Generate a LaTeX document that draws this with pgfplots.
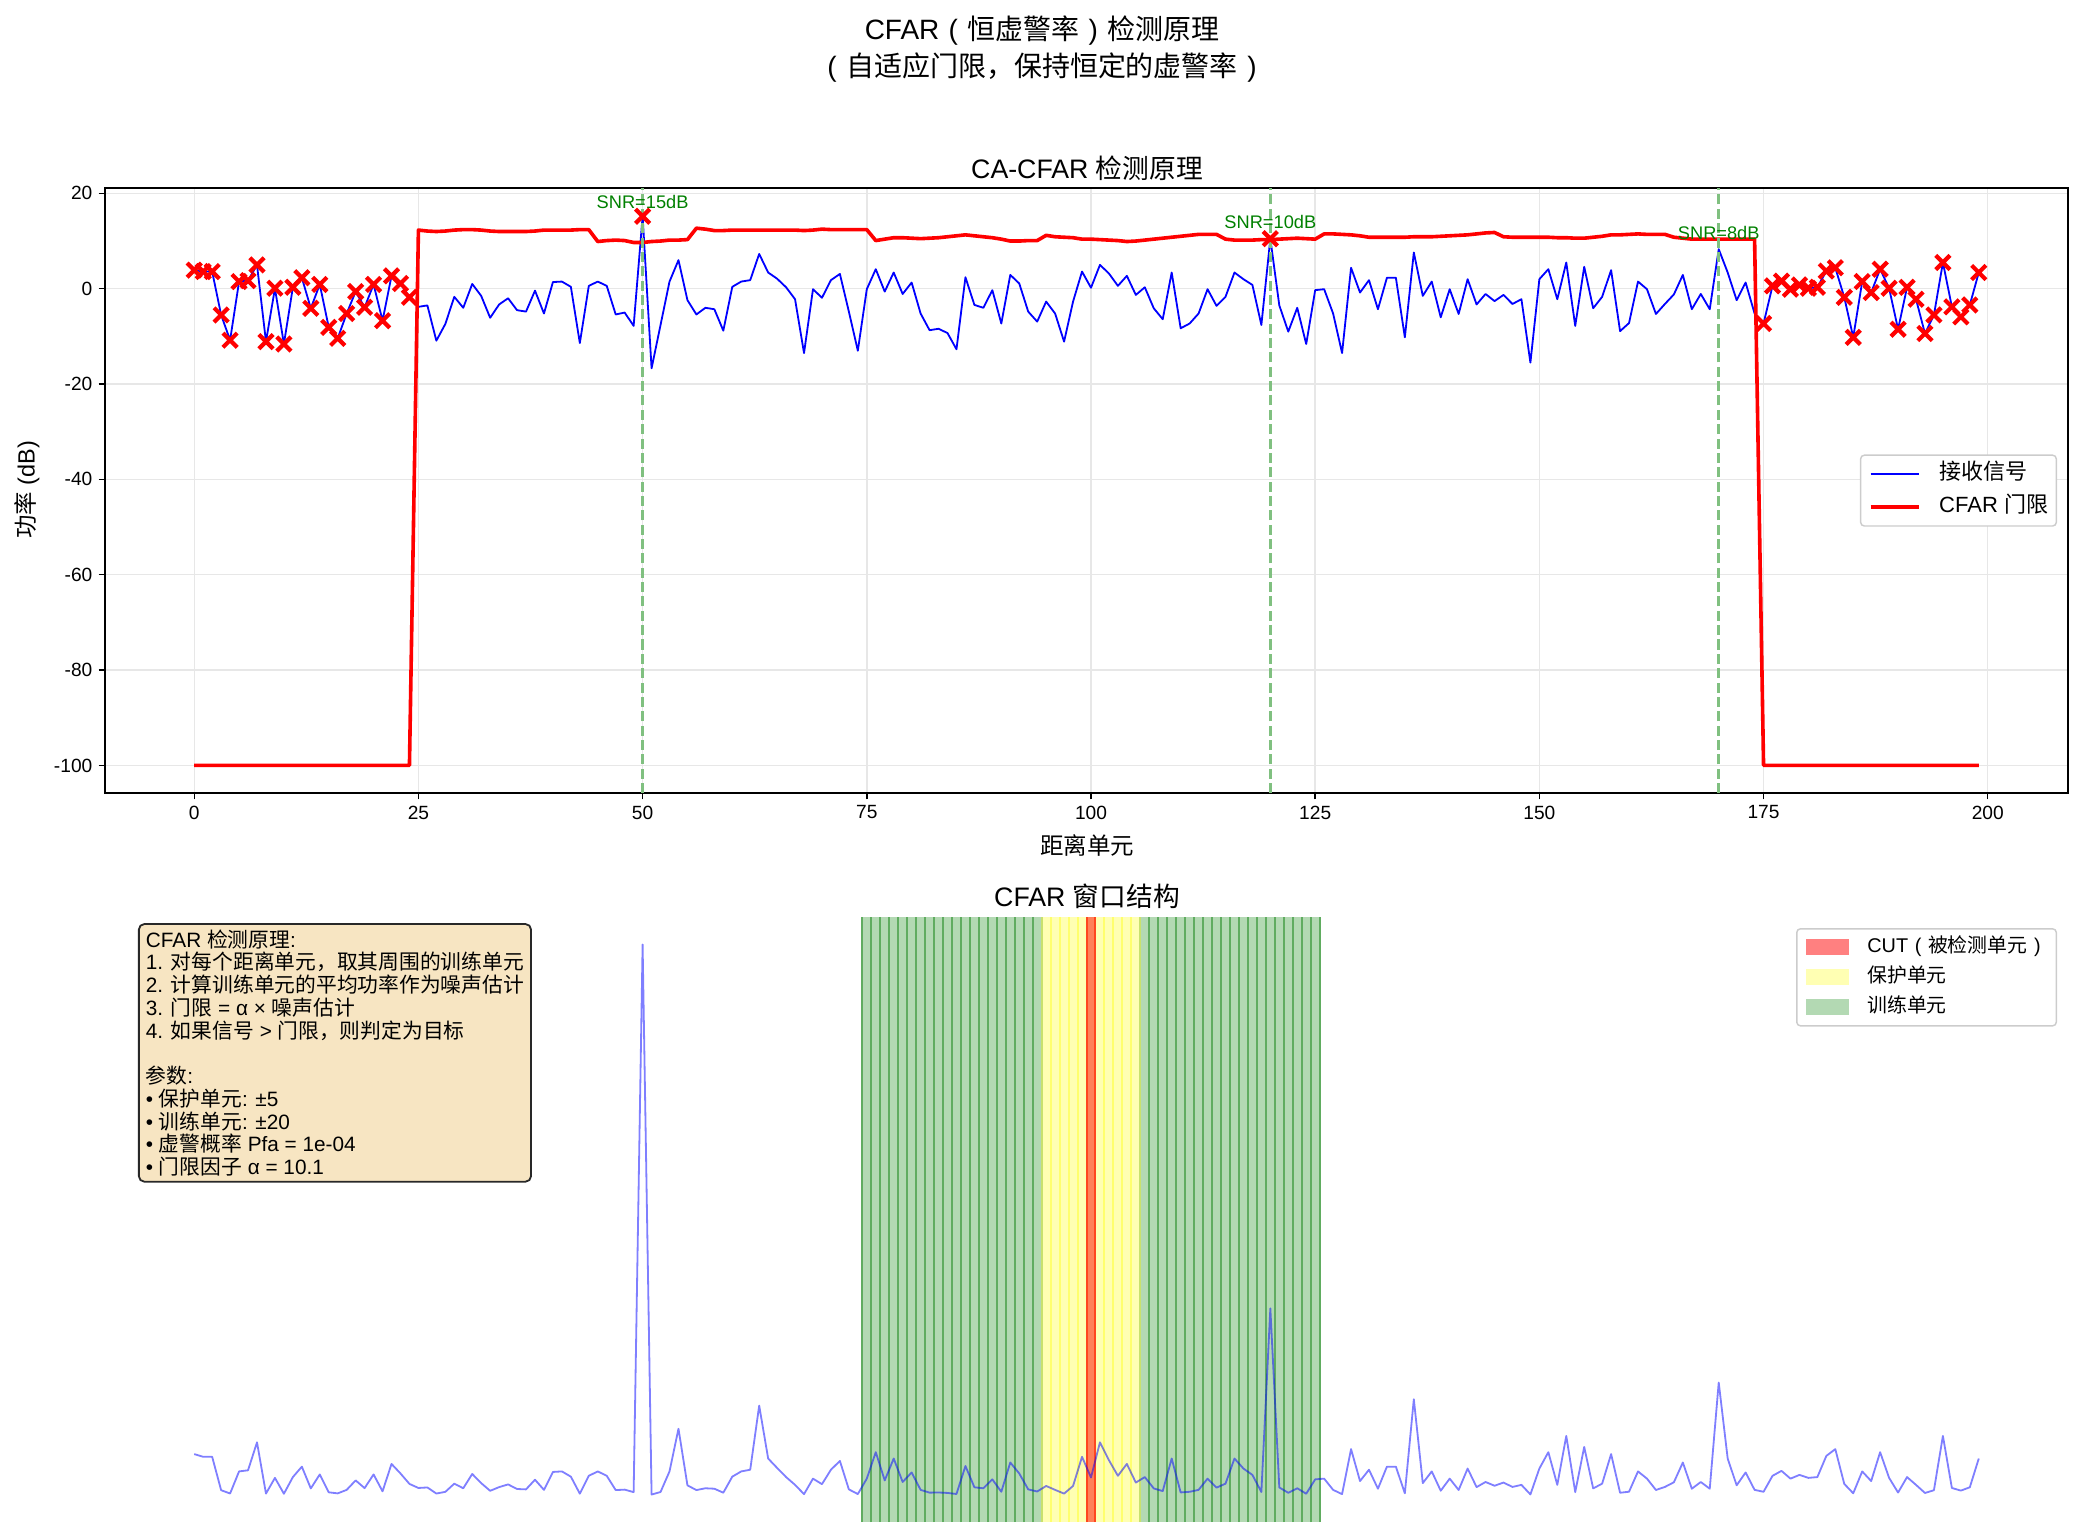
\documentclass[border=0pt]{standalone}
\usepackage{fontspec}
\setmainfont{Liberation Sans}
\newfontfamily\cjk{Noto Sans CJK SC}
\usepackage{pgfplots}
\pgfplotsset{compat=1.18}
\usepackage{pgfplotstable}
\newcommand\lp{\makebox[1em][c]{(}}
\newcommand\rp{\makebox[1em][c]{)}}

\definecolor{gridc}{RGB}{231,231,231}
\definecolor{snrg}{RGB}{0,128,0}
\definecolor{vlinec}{RGB}{128,192,128}
\definecolor{trainfill}{RGB}{179,217,179}
\definecolor{trainedge}{RGB}{96,172,96}
\definecolor{guardfill}{RGB}{255,255,179}
\definecolor{guardedge}{RGB}{255,255,110}
\definecolor{cutfill}{RGB}{255,128,88}
\definecolor{cutedge}{RGB}{255,70,30}
\definecolor{cutleg}{RGB}{255,128,128}
\definecolor{legc}{RGB}{204,204,204}
\definecolor{boxfill}{RGB}{247,229,194}
\definecolor{boxedge}{RGB}{40,40,40}

\pgfplotstableread{
x s t d
0 3.9 -100 1
1 3.6 -100 1
2 3.6 -100 1
3 -5.5 -100 1
4 -10.8 -100 1
5 1.5 -100 1
6 1.7 -100 1
7 5.0 -100 1
8 -11.1 -100 1
9 0.1 -100 1
10 -11.6 -100 1
11 0.3 -100 1
12 2.3 -100 1
13 -4.1 -100 1
14 0.9 -100 1
15 -8.1 -100 1
16 -10.4 -100 1
17 -5.2 -100 1
18 -0.6 -100 1
19 -3.9 -100 1
20 0.9 -100 1
21 -6.7 -100 1
22 2.7 -100 1
23 1.1 -100 1
24 -1.8 -100 1
25 -3.8 12.3 0
26 -3.5 12.1 0
27 -10.9 12.0 0
28 -7.4 12.1 0
29 -1.7 12.3 0
30 -4.0 12.4 0
31 1.0 12.4 0
32 -1.5 12.3 0
33 -6.1 12.1 0
34 -3.3 12.0 0
35 -2.0 12.0 0
36 -4.5 12.0 0
37 -4.8 12.0 0
38 -0.4 12.1 0
39 -5.2 12.3 0
40 1.4 12.3 0
41 1.5 12.3 0
42 0.4 12.3 0
43 -11.4 12.4 0
44 0.6 12.4 0
45 1.5 9.9 0
46 0.6 10.1 0
47 -5.4 10.2 0
48 -5.0 10.1 0
49 -7.8 9.7 0
50 15.2 9.7 1
51 -16.7 9.9 0
52 -7.6 10.0 0
53 1.5 10.2 0
54 6.0 10.2 0
55 -2.4 10.3 0
56 -5.4 12.7 0
57 -4.0 12.5 0
58 -4.3 12.2 0
59 -8.8 12.2 0
60 0.4 12.3 0
61 1.5 12.3 0
62 1.8 12.3 0
63 7.3 12.3 0
64 3.4 12.3 0
65 2.1 12.3 0
66 0.3 12.3 0
67 -2.2 12.3 0
68 -13.5 12.2 0
69 -0.1 12.3 0
70 -1.9 12.5 0
71 1.8 12.4 0
72 3.1 12.4 0
73 -4.8 12.4 0
74 -13.0 12.4 0
75 -0.1 12.4 0
76 4.1 10.1 0
77 -0.6 10.4 0
78 3.4 10.7 0
79 -1.1 10.7 0
80 1.3 10.6 0
81 -5.2 10.5 0
82 -8.7 10.6 0
83 -8.4 10.7 0
84 -9.3 10.9 0
85 -12.7 11.1 0
86 2.4 11.3 0
87 -3.4 11.1 0
88 -4.0 10.9 0
89 -0.3 10.7 0
90 -7.3 10.4 0
91 2.9 10.0 0
92 1.1 10.0 0
93 -4.8 10.1 0
94 -6.9 10.1 0
95 -2.7 11.2 0
96 -5.2 10.9 0
97 -11.1 10.8 0
98 -2.7 10.7 0
99 3.6 10.4 0
100 0.2 10.4 0
101 5.0 10.3 0
102 3.2 10.2 0
103 0.6 10.1 0
104 2.7 9.9 0
105 -1.3 10.0 0
106 0.3 10.2 0
107 -4.1 10.4 0
108 -6.4 10.6 0
109 3.4 10.8 0
110 -8.3 11.0 0
111 -7.3 11.2 0
112 -5.2 11.4 0
113 -0.1 11.4 0
114 -3.6 11.4 0
115 -1.7 10.4 0
116 3.4 10.2 0
117 2.0 10.2 0
118 0.8 10.2 0
119 -7.6 10.3 0
120 10.5 10.3 1
121 -3.5 10.4 0
122 -9.0 10.5 0
123 -4.0 10.6 0
124 -11.6 10.5 0
125 -0.3 10.4 0
126 -0.1 11.5 0
127 -5.2 11.5 0
128 -13.5 11.4 0
129 4.4 11.3 0
130 -0.8 11.1 0
131 1.8 10.8 0
132 -4.3 10.8 0
133 2.3 10.8 0
134 2.3 10.8 0
135 -10.2 10.8 0
136 7.6 10.9 0
137 -1.5 10.9 0
138 1.5 10.9 0
139 -6.0 11.0 0
140 -0.1 11.1 0
141 -5.3 11.2 0
142 2.0 11.3 0
143 -3.3 11.5 0
144 -1.1 11.7 0
145 -2.6 11.8 0
146 -1.3 10.9 0
147 -3.2 10.8 0
148 -2.2 10.8 0
149 -15.5 10.8 0
150 2.0 10.8 0
151 4.1 10.8 0
152 -2.2 10.7 0
153 5.5 10.7 0
154 -7.8 10.6 0
155 4.6 10.6 0
156 -4.1 10.8 0
157 -1.7 11.0 0
158 3.9 11.3 0
159 -8.9 11.3 0
160 -7.2 11.4 0
161 1.5 11.5 0
162 -0.1 11.4 0
163 -5.3 11.4 0
164 -3.2 11.4 0
165 -1.2 10.8 0
166 2.9 10.6 0
167 -4.3 10.4 0
168 -1.1 10.4 0
169 -4.3 10.4 0
170 8.3 10.4 0
171 3.4 10.4 0
172 -2.4 10.4 0
173 1.3 10.4 0
174 -5.2 10.4 0
175 -7.3 -100 1
176 0.6 -100 1
177 1.6 -100 1
178 -0.1 -100 1
179 0.8 -100 1
180 0.1 -100 1
181 0.3 -100 1
182 3.7 -100 1
183 4.4 -100 1
184 -1.8 -100 1
185 -10.2 -100 1
186 1.5 -100 1
187 -0.8 -100 1
188 4.1 -100 1
189 0.1 -100 1
190 -8.5 -100 1
191 0.3 -100 1
192 -2.2 -100 1
193 -9.4 -100 1
194 -5.5 -100 1
195 5.5 -100 1
196 -3.8 -100 1
197 -5.9 -100 1
198 -3.4 -100 1
199 3.4 -100 1
}\cfar

\begin{document}
\begin{tikzpicture}
\useasboundingbox (0,0) rectangle (1154.1pt,851.2pt);

% ---------------- top axis ----------------
\begin{axis}[
  at={(58.15pt,412.0pt)}, anchor=south west,
  width=1087.1pt, height=335.0pt, scale only axis,
  xmin=-9.95, xmax=208.95, ymin=-105.8, ymax=21.1,
  xtick={0,25,...,200}, ytick={-100,-80,...,20},
  grid=major, major grid style={gridc, line width=0.8pt},
  axis line style={black, line width=1pt},
  tick align=outside, tick pos=left, major tick length=3.5pt,
  tick style={black, line width=0.8pt},
  ticklabel style={font=\fontsize{10.6}{12}\selectfont},
  /pgf/number format/assume math mode=true,
  legend style={at={(0.9944,0.5)}, anchor=east, draw=legc, line width=0.8pt,
    rounded corners=2pt, fill=white, inner xsep=4.5pt, inner ysep=4.6pt,
    row sep=6pt, font=\fontsize{12.2}{14}\selectfont,
    nodes={inner sep=0pt, text height=9pt, text depth=3pt},
    /tikz/every odd column/.append style={column sep=10pt}},
  legend cell align=left,
  legend image code/.code={\draw[#1, line cap=butt, sharp corners] (0pt,0pt) -- (27pt,0pt);},
]
\addplot[blue, line width=1pt, line join=round] table[x=x, y=s]{\cfar};
\addlegendentry{{\cjk 接收信号}}
\addplot[red, line width=2pt, line join=round] table[x=x, y=t]{\cfar};
\addlegendentry{CFAR {\cjk 门限}}
\addplot[only marks, red, mark=x, mark size=5.6pt, mark options={line width=2.3pt},
  restrict expr to domain={\thisrow{d}}{0.5:1.5}, forget plot] table[x=x, y=s]{\cfar};
\addplot[vlinec, line width=1.5pt, dash pattern=on 5.55pt off 2.4pt, forget plot] coordinates {(50,-105.8) (50,21.1)};
\addplot[vlinec, line width=1.5pt, dash pattern=on 5.55pt off 2.4pt, forget plot] coordinates {(120,-105.8) (120,21.1)};
\addplot[vlinec, line width=1.5pt, dash pattern=on 5.55pt off 2.4pt, forget plot] coordinates {(170,-105.8) (170,21.1)};
\node[snrg, font=\fontsize{10.1}{12}\selectfont, anchor=base, inner sep=0pt] at (axis cs:50,16.8) {SNR=15dB};
\node[snrg, font=\fontsize{10.1}{12}\selectfont, anchor=base, inner sep=0pt] at (axis cs:120,12.6) {SNR=10dB};
\node[snrg, font=\fontsize{10.1}{12}\selectfont, anchor=base, inner sep=0pt] at (axis cs:170,10.4) {SNR=8dB};
\end{axis}

% ---------------- bottom axis ----------------
\begin{axis}[
  at={(58.15pt,8.31pt)}, anchor=south west,
  width=1087.1pt, height=335.0pt, scale only axis,
  xmin=-9.95, xmax=208.95, ymin=-1.633, ymax=34.76,
  hide axis,
  legend style={at={(0.9944,0.9818)}, anchor=north east, draw=legc, line width=0.8pt,
    rounded corners=2pt, fill=white, inner xsep=5pt, inner ysep=4.75pt,
    row sep=5.6pt, font=\fontsize{11}{13}\selectfont,
    nodes={inner sep=0pt, text height=8.5pt, text depth=2.5pt},
    /tikz/every odd column/.append style={column sep=10pt}},
  legend cell align=left,
]
% training cells (left and right)
\addplot[draw=none, fill=trainfill, forget plot] coordinates {(74.5,-1.633) (74.5,34.76) (94.5,34.76) (94.5,-1.633)} -- cycle;
\addplot[draw=none, fill=trainfill, forget plot] coordinates {(105.5,-1.633) (105.5,34.76) (125.5,34.76) (125.5,-1.633)} -- cycle;
% guard cells
\addplot[draw=none, fill=guardfill, forget plot] coordinates {(94.5,-1.633) (94.5,34.76) (105.5,34.76) (105.5,-1.633)} -- cycle;
% CUT
\addplot[draw=none, fill=cutfill, forget plot] coordinates {(99.5,-1.633) (99.5,34.76) (100.5,34.76) (100.5,-1.633)} -- cycle;
% cell edges
\pgfplotsinvokeforeach{74,...,93}{
  \addplot[trainedge, line width=1.1pt, forget plot] coordinates {(#1.5,-1.633) (#1.5,34.76)};
}
\pgfplotsinvokeforeach{106,...,125}{
  \addplot[trainedge, line width=1.1pt, forget plot] coordinates {(#1.5,-1.633) (#1.5,34.76)};
}
\pgfplotsinvokeforeach{95,...,98,101,102,103,104}{
  \addplot[guardedge, line width=1.1pt, forget plot] coordinates {(#1.5,-1.633) (#1.5,34.76)};
}
\addplot[color={rgb,255:red,200;green,225;blue,110}, line width=1.1pt, forget plot] coordinates {(94.5,-1.633) (94.5,34.76)};
\addplot[color={rgb,255:red,200;green,225;blue,110}, line width=1.1pt, forget plot] coordinates {(105.5,-1.633) (105.5,34.76)};
\addplot[cutedge, line width=1.1pt, forget plot] coordinates {(99.5,-1.633) (99.5,34.76)};
\addplot[cutedge, line width=1.1pt, forget plot] coordinates {(100.5,-1.633) (100.5,34.76)};
% signal (linear power)
\addplot[blue, opacity=0.5, line width=1pt, line join=round, forget plot] table[x=x, y expr={10^(\thisrow{s}/10)}]{\cfar};
% legend
\addlegendimage{legend image code/.code={\fill[cutleg, sharp corners] (0pt,-4pt) rectangle (23.3pt,4pt);}}
\addlegendentry{CUT\lp{\cjk 被检测单元}\rp}
\addlegendimage{legend image code/.code={\fill[guardfill, sharp corners] (0pt,-4pt) rectangle (23.3pt,4pt);}}
\addlegendentry{{\cjk 保护单元}}
\addlegendimage{legend image code/.code={\fill[trainfill, sharp corners] (0pt,-4pt) rectangle (23.3pt,4pt);}}
\addlegendentry{{\cjk 训练单元}}
% text box
\node[anchor=north west, draw=boxedge, fill=boxfill, rounded corners=3pt, line width=1pt,
  inner xsep=3.9pt, inner ysep=3pt, align=left, font=\fontsize{11.5}{12.6}\selectfont]
  at (rel axis cs:0.0168,0.990) {CFAR {\cjk 检测原理}:\\
1. {\cjk 对每个距离单元，取其周围的训练单元}\\
2. {\cjk 计算训练单元的平均功率作为噪声估计}\\
3. {\cjk 门限} = α × {\cjk 噪声估计}\\
4. {\cjk 如果信号} > {\cjk 门限，则判定为目标}\\[12.6pt]
{\cjk 参数}:\\
• {\cjk 保护单元}: ±5\\
• {\cjk 训练单元}: ±20\\
• {\cjk 虚警概率} Pfa = 1e-04\\
• {\cjk 门限因子} α = 10.1};
\end{axis}

% ---------------- titles and labels ----------------
\begin{scope}[x=0.5538pt, y=0.5538pt]
\node[font=\fontsize{15.5}{18}\selectfont] at (1042,1506) {CFAR\lp{\cjk 恒虚警率}\rp{\cjk 检测原理}};
\node[font=\fontsize{15.5}{18}\selectfont] at (1042,1469) {\lp{\cjk 自适应门限，保持恒定的虚警率}\rp};
\node[font=\fontsize{14.8}{17}\selectfont] at (1087,1369) {CA-CFAR {\cjk 检测原理}};
\node[font=\fontsize{14.8}{17}\selectfont] at (1087,641) {CFAR {\cjk 窗口结构}};
\node[font=\fontsize{13}{15}\selectfont] at (1087,692) {{\cjk 距离单元}};
\node[font=\fontsize{13}{15}\selectfont, rotate=90] at (27,1047) {{\cjk 功率} (dB)};
\end{scope}
\end{tikzpicture}
\end{document}
